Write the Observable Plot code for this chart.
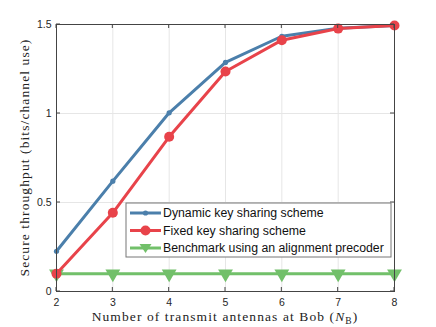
<!DOCTYPE html>
<html><head><meta charset="utf-8">
<script src="https://cdn.jsdelivr.net/npm/d3@7"></script>
<script src="https://cdn.jsdelivr.net/npm/@observablehq/plot@0.6"></script>
<style>body{margin:0;background:#fff}#c{position:relative;width:436px;height:327px}</style>
</head><body><div id="c"></div>
<script>
const antennas = [2,3,4,5,6,7,8];
const dynamicKey = [0.226,0.62,1.004,1.287,1.434,1.479,1.495];
const fixedKey = [0.10,0.442,0.869,1.236,1.412,1.477,1.494];
const benchmark = [0.10,0.10,0.10,0.10,0.10,0.10,0.10];
const xTicks = [2,3,4,5,6,7,8];
const yTicks = [0,0.5,1,1.5];
const yTickLabels = ["0","0.5","1","1.5"];
const seriesNames = ["Dynamic key sharing scheme","Fixed key sharing scheme","Benchmark using an alignment precoder"];
const colors = ["#4b7fab","#e8434a","#72c06a"];

const rows = (vals, s) => antennas.map((x,i)=>({x, y: vals[i], s}));
const dBlue = rows(dynamicKey, seriesNames[0]);
const dRed = rows(fixedKey, seriesNames[1]);
const dGreen = rows(benchmark, seriesNames[2]);

const chart = Plot.plot({
  width: 436, height: 327,
  marginLeft: 56, marginRight: 42, marginTop: 24, marginBottom: 36,
  style: {fontFamily: "Liberation Sans, Arial, sans-serif", fontSize: "10.5px", color: "#262626", background: "#fff"},
  x: {type: "linear", domain: [2,8], ticks: xTicks},
  y: {type: "linear", domain: [0,1.5], ticks: yTicks},
  marks: [
    Plot.gridX(xTicks, {stroke: "#e6e6e6", strokeOpacity: 1}),
    Plot.gridY(yTicks, {stroke: "#e6e6e6", strokeOpacity: 1}),
    Plot.axisX(xTicks, {anchor: "bottom", tickSize: 0, tickPadding: 7, label: null}),
    Plot.axisY(yTicks, {anchor: "left", tickSize: 0, tickPadding: 5, label: null, tickFormat: (d,i)=>yTickLabels[i]}),
    Plot.line(dGreen, {x:"x", y:"y", stroke: colors[2], strokeWidth: 3}),
    Plot.dot(dGreen, {x:"x", y:"y", fill: colors[2], symbol: "triangle", rotate: 180, r: 5.5}),
    Plot.line(dBlue, {x:"x", y:"y", stroke: colors[0], strokeWidth: 3}),
    Plot.dot(dBlue, {x:"x", y:"y", fill: colors[0], r: 2.6}),
    Plot.line(dRed, {x:"x", y:"y", stroke: colors[1], strokeWidth: 3}),
    Plot.dot(dRed, {x:"x", y:"y", fill: colors[1], r: 5}),
    Plot.frame({stroke: "#444", strokeWidth: 1})
  ]
});
document.getElementById("c").appendChild(chart);

const svg = d3.select(chart);
const xs = chart.scale("x"), ys = chart.scale("y");
const x0 = xs.apply(2), x1 = xs.apply(8), y0 = ys.apply(0), y1 = ys.apply(1.5);
// inward ticks on all four sides
const tk = svg.append("g").attr("stroke","#444").attr("stroke-width",1);
xTicks.forEach(t=>{
  const px = xs.apply(t);
  tk.append("line").attr("x1",px).attr("x2",px).attr("y1",y0).attr("y2",y0-4);
  tk.append("line").attr("x1",px).attr("x2",px).attr("y1",y1).attr("y2",y1+4);
});
yTicks.forEach(t=>{
  const py = ys.apply(t);
  tk.append("line").attr("x1",x0).attr("x2",x0+4).attr("y1",py).attr("y2",py);
  tk.append("line").attr("x1",x1).attr("x2",x1-4).attr("y1",py).attr("y2",py);
});

// axis labels
const serif = "Liberation Serif, 'DejaVu Serif', serif";
const xl = svg.append("text").attr("x",(x0+x1)/2).attr("y",321).attr("text-anchor","middle")
  .attr("font-family",serif).attr("font-size",13.5).attr("letter-spacing",1.1).attr("fill","#222");
xl.append("tspan").text("Number of transmit antennas at Bob (");
xl.append("tspan").attr("font-style","italic").text("N");
xl.append("tspan").attr("font-size",9.5).attr("dy",3).text("B");
xl.append("tspan").attr("dy",-3).text(")");
svg.append("text").attr("transform",`translate(29,${(y0+y1)/2}) rotate(-90)`).attr("text-anchor","middle")
  .attr("font-family",serif).attr("font-size",13.5).attr("letter-spacing",1.1).attr("fill","#222")
  .text("Secure throughput (bits/channel use)");

// legend
const lg = svg.append("g").attr("text-anchor","start");
const lx = 126, ly = 203, lw = 265, lh = 54;
lg.append("rect").attr("x",lx).attr("y",ly).attr("width",lw).attr("height",lh)
  .attr("fill","#fff").attr("stroke","#777").attr("stroke-width",1);
seriesNames.forEach((name,i)=>{
  const cy = ly + 10 + i*17.5;
  lg.append("line").attr("x1",lx+4).attr("x2",lx+35).attr("y1",cy).attr("y2",cy)
    .attr("stroke",colors[i]).attr("stroke-width",3);
  const mx = lx+19.5;
  if (i===0) lg.append("circle").attr("cx",mx).attr("cy",cy).attr("r",2.6).attr("fill",colors[0]);
  if (i===1) lg.append("circle").attr("cx",mx).attr("cy",cy).attr("r",5).attr("fill",colors[1]);
  if (i===2) lg.append("path").attr("d",`M${mx-6},${cy-4}L${mx+6},${cy-4}L${mx},${cy+5}Z`).attr("fill",colors[2]);
  lg.append("text").attr("x",lx+37).attr("y",cy).attr("dy","0.35em").attr("text-anchor","start")
    .attr("font-family","Liberation Sans, Arial, sans-serif").attr("font-size",12.3).attr("fill","#111").text(name);
});
</script></body></html>
